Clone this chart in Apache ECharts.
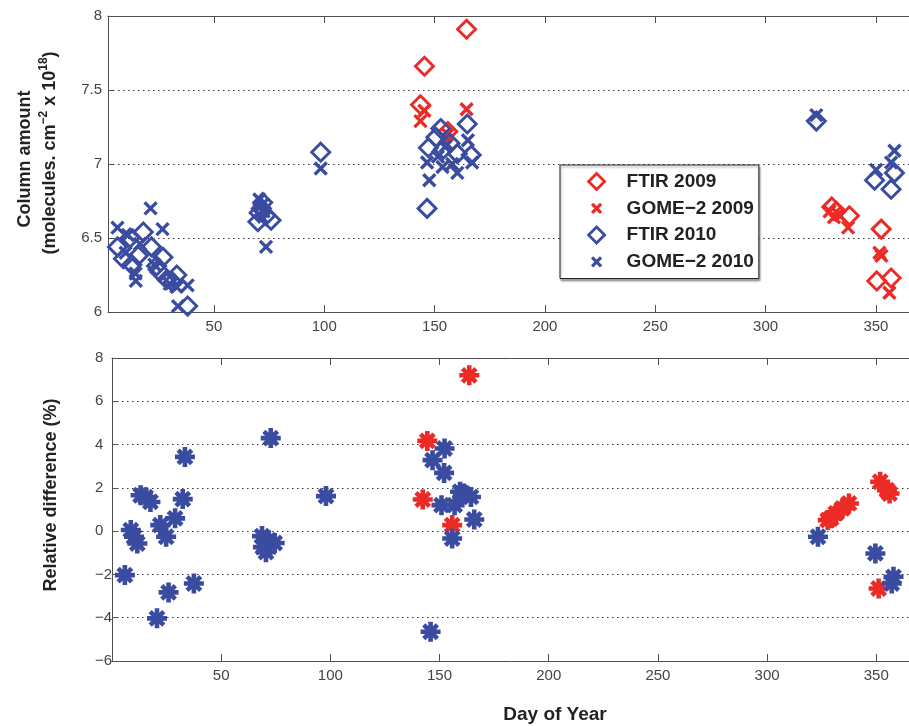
<!DOCTYPE html>
<html><head><meta charset="utf-8">
<script src="https://cdn.jsdelivr.net/npm/echarts@6/dist/echarts.min.js"></script>
<style>html,body{margin:0;padding:0;background:#fff}#c{width:909px;height:726px}</style>
</head><body><div id="c"></div>
<script>
// ---- data (day of year, value) ----
const xTickValues = [50, 100, 150, 200, 250, 300, 350];
const topYTicks = [6, 6.5, 7, 7.5, 8];
const bottomYTicks = [-6, -4, -2, 0, 2, 4, 6, 8];

const ftir2009 = [
  [143.6, 7.40], [145.4, 7.66], [156, 7.22], [164.5, 7.91],
  [330, 6.71], [332, 6.68], [338, 6.65], [352.4, 6.56], [350.4, 6.21], [356.9, 6.23]
];
const gome2009 = [
  [143.6, 7.29], [145.4, 7.36], [156, 7.20], [164.5, 7.37],
  [329, 6.68], [331, 6.64], [333, 6.66], [337.4, 6.57], [351.6, 6.40], [352.5, 6.38], [356.1, 6.13]
];
const ftir2010 = [
  [6.3, 6.44], [9.0, 6.36], [12.0, 6.50], [12.8, 6.32], [15.7, 6.38], [18.0, 6.54],
  [21.7, 6.44], [24.0, 6.31], [25.5, 6.27], [26.9, 6.37], [28.7, 6.22], [31.4, 6.20],
  [33.2, 6.25], [38.1, 6.04],
  [69.9, 6.61], [70.5, 6.67], [71.5, 6.70], [72.1, 6.74], [73.5, 6.65], [75.9, 6.62],
  [98.4, 7.08],
  [146.6, 6.70], [147.2, 7.11], [150.6, 7.18], [152.8, 7.24], [154, 7.10], [157, 7.14],
  [160.3, 7.07], [164.8, 7.27], [166.6, 7.06],
  [323, 7.29], [349.4, 6.89], [356.9, 6.83], [358.4, 6.94]
];
const gome2010 = [
  [6.3, 6.57], [10, 6.40], [11, 6.52], [14.5, 6.26], [14.6, 6.21], [16.5, 6.46],
  [21.3, 6.70], [23, 6.32], [26.7, 6.56], [30, 6.19], [33, 6.17], [33.7, 6.04], [38.1, 6.18],
  [70.6, 6.76], [71.5, 6.72], [72.5, 6.68], [73.6, 6.44],
  [98.4, 6.97],
  [146.6, 7.01], [147.6, 6.89], [151.5, 7.05], [153.6, 6.98], [155, 7.12], [158, 7.00],
  [160.3, 6.94], [165.1, 7.16], [167, 7.01],
  [323, 7.33], [350.1, 6.96], [356.9, 7.01], [358.4, 7.09]
];
const relDiff2009 = [
  [163.6, 7.2], [144.4, 4.17], [142.3, 1.46], [155.8, 0.28],
  [351.8, 2.28], [354.9, 1.89], [356.1, 1.74], [337.5, 1.28], [334.5, 1.05], [331.5, 0.82],
  [329.3, 0.59], [327.8, 0.51], [351.1, -2.65]
];
const relDiff2010 = [
  [5.9, -2.03], [8.6, 0.05], [10.1, -0.26], [11.6, -0.57], [13.1, 1.66], [15.4, 1.57],
  [17.6, 1.35], [20.6, -4.03], [22.1, 0.28], [24.8, -0.26], [25.9, -2.83], [28.9, 0.59],
  [32.4, 1.48], [33.4, 3.43], [37.5, -2.42],
  [68.7, -0.23], [69.1, -0.74], [70.5, -0.97], [71.8, -0.42], [72.7, 4.30], [74.5, -0.55],
  [98, 1.62],
  [152.3, 3.82], [146.8, 3.28], [152.1, 2.69], [145.9, -4.65], [150.9, 1.2], [156.9, 1.2],
  [159.4, 1.82], [160.7, 1.74], [164.4, 1.58], [165.9, 0.54], [155.8, -0.34],
  [323.3, -0.26], [349.6, -1.03], [357.9, -2.11], [357.1, -2.42]
];

// ---- styles ----
const RED = '#ec2b27';
const BLUE = '#3a4ca0';
const FONT = 'Liberation Sans, Arial, Helvetica, sans-serif';
const AX = '#505050';
const CROSS = 'path://M0,0L10,10M0,10L10,0';
const CROSS_LEG = 'path://M0,0M16,16M3.5,3.5L12.5,12.5M3.5,12.5L12.5,3.5';
const STAR = 'path://M5,0L5,10M0,5L10,5M1.6,1.6L8.4,8.4M1.6,8.4L8.4,1.6';

function xAxisDef(grid, min, position, showLabel) {
  return {
    type: 'value', gridIndex: grid, min: min, max: 365, position: position,
    axisLine: { show: true, onZero: false, lineStyle: { color: AX, width: 1 } },
    axisTick: { show: true, inside: true, length: 7, customValues: xTickValues, lineStyle: { color: AX } },
    axisLabel: { show: showLabel, customValues: xTickValues, fontFamily: FONT, fontSize: 15, color: '#444', margin: 7 },
    splitLine: { show: false }
  };
}
function yAxisDef(grid, min, max, interval, labelOpt) {
  return {
    type: 'value', gridIndex: grid, min: min, max: max, interval: interval,
    axisLine: { show: true, onZero: false, lineStyle: { color: AX, width: 1 } },
    axisTick: { show: true, inside: true, length: 6, lineStyle: { color: AX } },
    axisLabel: Object.assign({ fontFamily: FONT, fontSize: 15, color: '#444' }, labelOpt),
    splitLine: { show: true, lineStyle: { color: '#333', width: 1, type: [1.5, 3.5] } }
  };
}
function sc(name, data, xi, yi, symbol, size, color, bw) {
  return {
    name: name, type: 'scatter', xAxisIndex: xi, yAxisIndex: yi, data: data,
    symbol: symbol, symbolSize: size, clip: false,
    itemStyle: { color: 'transparent', borderColor: color, borderWidth: bw, opacity: 1 },
    emphasis: { disabled: true }, animation: false
  };
}

const chart = echarts.init(document.getElementById('c'), null, { renderer: 'canvas' });
chart.setOption({
  animation: false,
  backgroundColor: '#fff',
  grid: [
    { left: 108, top: 16, width: 808, height: 296 },
    { left: 112, top: 358, width: 808, height: 303 }
  ],
  xAxis: [
    xAxisDef(0, 2, 'bottom', true),
    xAxisDef(0, 2, 'top', false),
    xAxisDef(1, 0, 'bottom', true),
    xAxisDef(1, 0, 'top', false)
  ],
  yAxis: [
    yAxisDef(0, 6, 8, 0.5, { margin: 6 }),
    yAxisDef(1, -6, 8, 2, { margin: 17, align: 'left', formatter: v => (v < 0 ? '\u2212' + Math.abs(v) : String(v)) })
  ],
  legend: {
    orient: 'vertical', left: 560, top: 165,
    padding: [7, 5, 7, 27], itemWidth: 16, itemHeight: 16, itemGap: 7.7,
    backgroundColor: '#fff', borderColor: '#222', borderWidth: 1,
    shadowColor: 'rgba(0,0,0,0.35)', shadowBlur: 2, shadowOffsetX: 1, shadowOffsetY: 2,
    textStyle: { fontFamily: FONT, fontSize: 19, fontWeight: 'bold', color: '#222', padding: [0, 0, 0, 17] },
    selectedMode: false,
    data: [
      { name: 'FTIR 2009', icon: 'diamond', itemStyle: { color: 'transparent', borderColor: RED, borderWidth: 2.8 } },
      { name: 'GOME\u22122 2009', icon: CROSS_LEG, itemStyle: { color: 'transparent', borderColor: RED, borderWidth: 3.2 } },
      { name: 'FTIR 2010', icon: 'diamond', itemStyle: { color: 'transparent', borderColor: BLUE, borderWidth: 2.8 } },
      { name: 'GOME\u22122 2010', icon: CROSS_LEG, itemStyle: { color: 'transparent', borderColor: BLUE, borderWidth: 3.2 } }
    ]
  },
  series: [
    sc('FTIR 2009', ftir2009, 0, 0, 'diamond', 18, RED, 2.9),
    sc('GOME\u22122 2009', gome2009, 0, 0, CROSS, 12, RED, 3.4),
    sc('FTIR 2010', ftir2010, 0, 0, 'diamond', 18, BLUE, 2.9),
    sc('GOME\u22122 2010', gome2010, 0, 0, CROSS, 12, BLUE, 3.4),
    sc('Rel 2009', relDiff2009, 2, 1, STAR, 20, RED, 4.6),
    sc('Rel 2010', relDiff2010, 2, 1, STAR, 20, BLUE, 4.6)
  ],
  graphic: [
    { type: 'text', x: 25, y: 159, rotation: Math.PI / 2,
      style: { text: 'Column amount', font: 'bold 18px ' + FONT, fill: '#222', align: 'center', verticalAlign: 'middle' } },
    { type: 'text', x: 50, y: 153, rotation: Math.PI / 2,
      style: { text: '(molecules. cm{s|\u22122} x 10{s|18})', font: 'bold 18px ' + FONT, fill: '#222',
        align: 'center', verticalAlign: 'middle',
        rich: { s: { fontSize: 12, fontWeight: 'bold', fontFamily: FONT, fill: '#222', padding: [0, 0, 12, 0] } } } },
    { type: 'text', x: 51, y: 495, rotation: Math.PI / 2,
      style: { text: 'Relative difference (%)', font: 'bold 18px ' + FONT, fill: '#222', align: 'center', verticalAlign: 'middle' } },
    { type: 'text', x: 555, y: 715,
      style: { text: 'Day of Year', font: 'bold 19px ' + FONT, fill: '#222', align: 'center', verticalAlign: 'middle' } }
  ]
});
</script>
</body></html>
